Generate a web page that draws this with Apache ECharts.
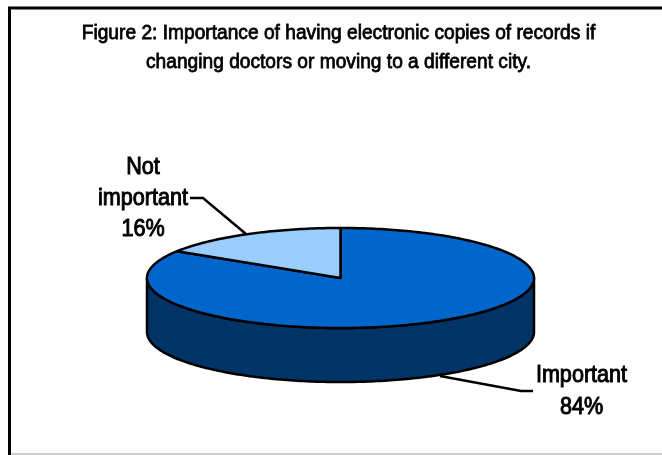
<!DOCTYPE html>
<html><head><meta charset="utf-8">
<style>html,body{margin:0;padding:0;background:#fff}#c{width:662px;height:455px}</style>
<script src="https://cdn.jsdelivr.net/npm/echarts@6/dist/echarts.min.js"></script>
</head><body><div id="c"></div>
<script>
const titleLines = ['Figure 2: Importance of having electronic copies of records if','changing doctors or moving to a different city.'];
const categories = ['Important','Not important'];
const values = [84,16];
const labelLines = [['Important','84%'],['Not','important','16%']];

const cx=340.5, cy=278, rx=193.5, ry=50, depth=54;
const topColors=['#0066CC','#99CCFF'];
const sideColor='#003366';
const stroke={stroke:'#000',lineWidth:2.5,lineJoin:'round'};
const total=values.reduce((a,b)=>a+b,0);
const pt=(deg,dy=0)=>{const r=deg*Math.PI/180;return [cx+rx*Math.sin(r),cy-ry*Math.cos(r)+dy];};
function arc(a,b,dy){const n=Math.max(2,Math.ceil(Math.abs(b-a)));const o=[];for(let i=0;i<=n;i++)o.push(pt(a+(b-a)*i/n,dy));return o;}

function renderItem(params,api){
  if(params.dataIndex!==0) return {type:'group',children:[]};
  const children=[];
  const wall=arc(90,270,0).concat(arc(270,90,depth));
  children.push({type:'polygon',shape:{points:wall},style:{fill:sideColor,...stroke}});
  let start=0;
  values.forEach((v,i)=>{
    const a=start, b=start+v/total*360;
    const pts=[[cx,cy]].concat(arc(a,b,0));
    children.push({type:'polygon',shape:{points:pts},style:{fill:topColors[i],...stroke}});
    start=b;
  });
  return {type:'group',children};
}
const labelStyle={fontFamily:'"Liberation Sans"',fontWeight:'normal',fontSize:24,fill:'#000',stroke:'#000',lineWidth:1,textAlign:'center',textVerticalAlign:'middle'};
const chart=echarts.init(document.getElementById('c'),null,{renderer:'canvas'});
chart.setOption({
  animation:false,
  backgroundColor:'#fff',
  series:[{type:'custom',coordinateSystem:'none',silent:true,
    data:values.map((v,i)=>({name:categories[i],value:v})),
    renderItem}],
  graphic:[
    {type:'rect',shape:{x:9.5,y:8,width:660,height:460},style:{fill:'none',stroke:'#000',lineWidth:3},z:0},
    {type:'line',shape:{x1:11,y1:454,x2:662,y2:454},style:{stroke:'#d0d0d0',lineWidth:2},z:0},
    {type:'polyline',shape:{points:[[190,198],[203,198],[246,234]]},style:{stroke:'#000',lineWidth:2.5,fill:'none'},z:5},
    {type:'polyline',shape:{points:[[440,376],[521,391],[533,391]]},style:{stroke:'#000',lineWidth:2.5,fill:'none'},z:5},
    ...titleLines.map((t,i)=>({type:'text',x:338.5,y:33+i*29,scaleX:0.935,z:6,style:{...labelStyle,text:t,fontSize:20.5,lineWidth:0.8}})),
    ...labelLines[1].map((t,i)=>({type:'text',x:143,y:167+i*31,scaleX:0.9,z:6,style:{...labelStyle,text:t}})),
    ...labelLines[0].map((t,i)=>({type:'text',x:581.5,y:375+i*32,scaleX:0.9,z:6,style:{...labelStyle,text:t}}))
  ]
});
</script></body></html>
